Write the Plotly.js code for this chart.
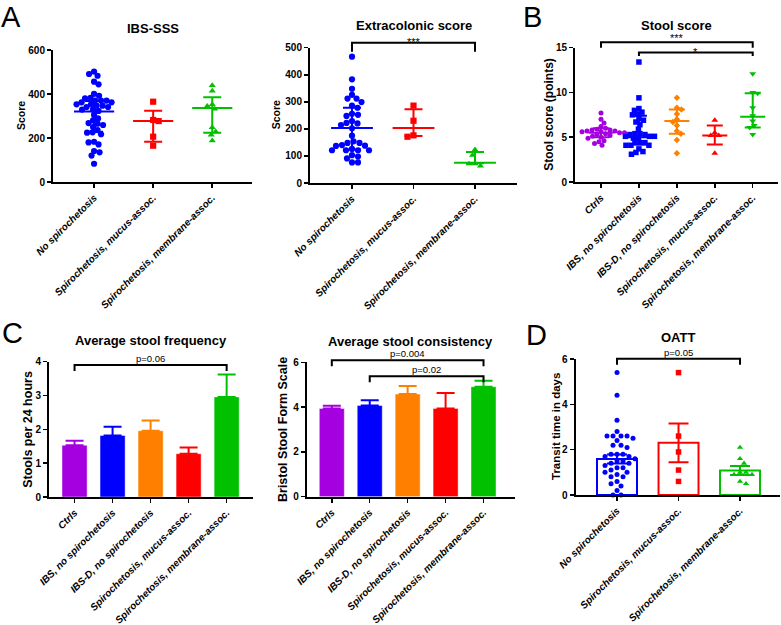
<!DOCTYPE html>
<html><head><meta charset="utf-8">
<script src="https://cdn.plot.ly/plotly-3.0.1.min.js"></script>
<style>html,body{margin:0;padding:0;background:#fff}#chart{width:781px;height:625px}</style>
</head><body><div id="chart"></div>
<script>
// ---------------- data ----------------
const cats3 = ['No spirochetosis', 'Spirochetosis, mucus-assoc.', 'Spirochetosis, membrane-assoc.'];
const cats5 = ['Ctrls', 'IBS, no spirochetosis', 'IBS-D, no spirochetosis', 'Spirochetosis, mucus-assoc.', 'Spirochetosis, membrane-assoc.'];

const panelTitles = ['IBS-SSS', 'Extracolonic score', 'Stool score', 'Average stool frequency', 'Average stool consistency', 'OATT'];
const yTitles = ['Score', 'Score', 'Stool score (points)', 'Stools per 24 hours', 'Bristol Stool Form Scale', 'Transit time in days'];
const panelLetters = ['A', 'B', 'C', 'D'];

// IBS-SSS (median with IQR)
const sssNo = [502, 491, 483, 456, 444, 401, 392, 383, 380, 370, 370, 370, 362, 362, 353, 353, 347, 347, 341, 341, 329, 329, 323, 305, 289, 280, 268, 265, 259, 250, 236, 226, 224, 217, 183, 180, 171, 141, 135, 120, 83];
const sssMucus = [365, 282, 277, 206, 165];
const sssMembrane = [439, 414, 353, 345, 332, 248, 229, 214, 188];
const sssMedian = [320, 277, 336];
const sssQ1 = [228, 183, 224];
const sssQ3 = [368, 324, 385];

// Extracolonic score
const extraNo = [467, 383, 348, 326, 312, 312, 299, 286, 278, 256, 252, 248, 229, 222, 220, 214, 202, 175, 154, 148, 148, 140, 138, 137, 126, 121, 121, 121, 121, 103, 98, 91, 76, 76];
const extraMucus = [286, 230, 176, 171];
const extraMembrane = [123, 103, 71, 71, 63];
const extraMedian = [203, 203, 75];
const extraQ1 = [124, 174, 73];
const extraQ3 = [278, 273, 115];

// Stool score
const stoolCtrls = [7.7, 7.0, 6.6, 6.2, 6.0, 5.9, 5.8, 5.8, 5.7, 5.7, 5.6, 5.6, 5.5, 5.5, 5.4, 5.3, 5.2, 5.1, 5.0, 4.9, 4.6, 4.5, 4.3, 4.1];
const stoolIBS = [13.4, 9.4, 8.2, 8.0, 7.8, 7.6, 7.5, 7.1, 6.9, 6.7, 6.4, 5.9, 5.4, 5.4, 5.3, 5.3, 5.1, 5.1, 5.1, 4.9, 4.9, 4.4, 4.4, 4.4, 4.1, 4.1, 4.1, 3.7, 3.4, 3.3, 3.1];
const stoolIBSD = [9.4, 8.3, 8.1, 7.6, 7.0, 6.7, 6.3, 5.7, 5.4, 4.7, 3.2];
const stoolMucus = [6.9, 5.5, 5.2, 5.2, 3.2];
const stoolMembrane = [12.1, 10.0, 9.9, 8.3, 7.4, 6.8, 6.3, 6.1, 5.3];
const stoolMedian = [5.5, 5.0, 6.8, 5.2, 7.3];
const stoolQ1 = [5.0, 4.2, 5.4, 4.2, 6.1];
const stoolQ3 = [6.0, 7.4, 8.1, 6.3, 9.9];

// Average stool frequency / consistency (mean + SEM)
const freqMean = [1.53, 1.82, 1.96, 1.28, 2.96];
const freqSem = [0.13, 0.26, 0.30, 0.18, 0.66];
const consMean = [3.94, 4.07, 4.58, 3.94, 4.91];
const consSem = [0.12, 0.24, 0.36, 0.69, 0.27];

// OATT (mean ± SEM with individual points)
const oattNo = [5.4, 4.4, 3.3, 2.8, 2.6, 2.6, 2.6, 2.6, 2.5, 2.4, 2.2, 2.2, 2.1, 1.8, 1.8, 1.8, 1.7, 1.7, 1.6, 1.5, 1.5, 1.4, 1.4, 1.3, 1.2, 1.2, 1.1, 1.0, 1.0, 0.9, 0.8, 0.8, 0.6, 0.5, 0.4, 0.2, 0.0, 0.0];
const oattMucus = [5.4, 2.6, 1.9, 1.1, 0.6];
const oattMembrane = [2.1, 1.6, 1.4, 1.0, 1.0, 0.9, 0.9, 0.6, 0.5];
const oattMean = [1.59, 2.30, 1.08];
const oattSem = [0.20, 0.85, 0.20];

// significance brackets: panel index, from/to category, bracket level, label
const sigPanel = [1, 2, 2, 3, 4, 4, 5];
const sigFrom = [0, 0, 1, 0, 0, 1, 0];
const sigTo = [2, 4, 4, 4, 4, 4, 2];
const sigLevel = [518, 15.6, 14.45, 3.9, 6.09, 5.38, 6.01];
const sigLabel = ['***', '***', '*', 'p=0.06', 'p=0.004', 'p=0.02', 'p=0.05'];

// ---------------- layout geometry / styles ----------------
const W = 781, H = 625;
const FONT = 'Liberation Sans, Arial, Helvetica, sans-serif';
const COL = ['#A400E0', '#0000FF', '#FF8000', '#FF0000', '#00C000'];
const COL3 = ['#0000FF', '#FF0000', '#00C000'];

const P = [
  {id:'',  x0:53,    x1:252,   yTop:50,    yBot:182,   xr:[-0.695, 2.673], ymax:600, dtick:200, cats:cats3, titleY:29,  yTitleX:21,    yTitleSize:10.5},
  {id:'2', x0:310,   x1:517,   yTop:47.7,  yBot:183,   xr:[-0.683, 2.683], ymax:500, dtick:100, cats:cats3, titleY:25,  yTitleX:276,   yTitleSize:10.5},
  {id:'3', x0:575,   x1:778,   yTop:47.7,  yBot:182,   xr:[-0.686, 4.667], ymax:15,  dtick:5,   cats:cats5, titleY:26,  yTitleX:549,   yTitleSize:12},
  {id:'4', x0:49,    x1:252.5, yTop:361.7, yBot:497,   xr:[-0.672, 4.68],  ymax:4,   dtick:1,   cats:cats5, titleY:340, yTitleX:28.5,  yTitleSize:12.5},
  {id:'5', x0:306.7, x1:515,   yTop:362.3, yBot:496.7, xr:[-0.662, 4.83],  ymax:6,   dtick:2,   cats:cats5, titleY:341, yTitleX:282.5, yTitleSize:12.5},
  {id:'6', x0:575.5, x1:780,   yTop:359,   yBot:495,   xr:[-0.675, 2.65],  ymax:6,   dtick:2,   cats:cats3, titleY:337, yTitleX:556,   yTitleSize:11.5}
];
const letterPos = [[11, 0], [532.7, 0], [12.5, 316], [536, 318]];

function paperX(p, xv) { return (p.x0 + (xv - p.xr[0]) / (p.xr[1] - p.xr[0]) * (p.x1 - p.x0)) / W; }
function paperY(p, yv) { return 1 - (p.yBot - yv / p.ymax * (p.yBot - p.yTop)) / H; }
function pxPerY(p) { return (p.yBot - p.yTop) / p.ymax; }
function pxPerX(p) { return (p.x1 - p.x0) / (p.xr[1] - p.xr[0]); }

// beeswarm: horizontal offsets (px) computed from values so markers don't overlap
function swarm(vals, pyUnit, diam) {
  const order = vals.map((v, i) => i).sort((a, b) => vals[b] - vals[a]);
  const placed = [];
  const off = new Array(vals.length).fill(0);
  order.forEach((i, n) => {
    const y = vals[i] * pyUnit;
    let best = 0;
    for (let k = 0; k < 600; k++) {
      const sgn = (k % 2 === 1 ? 1 : -1) * (n % 2 ? -1 : 1);
      const cand = Math.ceil(k / 2) * 0.5 * sgn;
      if (placed.every(q => (q.x - cand) ** 2 + (q.y - y) ** 2 >= diam * diam)) { best = cand; break; }
    }
    off[i] = best;
    placed.push({x: best, y: y});
  });
  return off;
}

const traces = [];
function axesOf(p) { return {xaxis: 'x' + p.id, yaxis: 'y' + p.id}; }

function addPoints(p, cat, vals, color, symbol, size, diam) {
  const offs = swarm(vals, pxPerY(p), diam);
  const ux = pxPerX(p);
  traces.push(Object.assign({
    type: 'scatter', mode: 'markers',
    x: vals.map((v, k) => cat + offs[k] / ux), y: vals,
    marker: {color: color, symbol: symbol, size: size, line: {width: 0}},
    cliponaxis: false, hoverinfo: 'skip'
  }, axesOf(p)));
}
function addMedianIQR(p, cat, med, q1, q3, color, half, capW) {
  traces.push(Object.assign({
    type: 'scatter', mode: 'markers', x: [cat], y: [med],
    marker: {color: 'rgba(0,0,0,0)', size: 1},
    error_x: {type: 'constant', value: half, width: 0, thickness: 2, color: color},
    error_y: {type: 'data', symmetric: false, array: [q3 - med], arrayminus: [med - q1], width: capW, thickness: 2, color: color},
    cliponaxis: false, hoverinfo: 'skip'
  }, axesOf(p)));
}

// Panel A left
[sssNo, sssMucus, sssMembrane].forEach((v, i) => addPoints(P[0], i, v, COL3[i], ['circle', 'square', 'triangle-up'][i], 6.2, 5.2));
sssMedian.forEach((m, i) => addMedianIQR(P[0], i, m, sssQ1[i], sssQ3[i], COL3[i], 0.34, 9));
// Panel A right
[extraNo, extraMucus, extraMembrane].forEach((v, i) => addPoints(P[1], i, v, COL3[i], ['circle', 'square', 'triangle-up'][i], 6.2, 5.8));
extraMedian.forEach((m, i) => addMedianIQR(P[1], i, m, extraQ1[i], extraQ3[i], COL3[i], 0.34, 9));
// Panel B
[stoolCtrls, stoolIBS, stoolIBSD, stoolMucus, stoolMembrane].forEach((v, i) =>
  addPoints(P[2], i, v, COL[i], ['circle', 'square', 'diamond', 'triangle-up', 'triangle-down'][i], [5, 5.5, 5, 6, 6][i], 4.6));
stoolMedian.forEach((m, i) => addMedianIQR(P[2], i, m, stoolQ1[i], stoolQ3[i], COL[i], 0.33, 8));

// Panel C bars
function addBars(p, means, sems, colors) {
  means.forEach((m, i) => {
    traces.push(Object.assign({
      type: 'bar', x: [i], y: [m], width: 0.66,
      marker: {color: colors[i], line: {color: 'rgba(255,255,255,0.45)', width: 1}},
      error_y: {type: 'data', symmetric: false, array: [sems[i]], arrayminus: [0], width: 9, thickness: 2, color: colors[i]},
      hoverinfo: 'skip'
    }, axesOf(p)));
  });
}
addBars(P[3], freqMean, freqSem, COL);
addBars(P[4], consMean, consSem, COL);

// Panel D hollow bars + points
oattMean.forEach((m, i) => {
  traces.push(Object.assign({
    type: 'bar', x: [i], y: [m], width: 0.65,
    marker: {color: 'rgba(255,255,255,0)', line: {color: COL3[i], width: 2}},
    error_y: {type: 'data', symmetric: true, array: [oattSem[i]], width: 10, thickness: 2, color: COL3[i]},
    hoverinfo: 'skip'
  }, axesOf(P[5])));
});
[oattNo, oattMucus, oattMembrane].forEach((v, i) => addPoints(P[5], i, v, COL3[i], ['circle', 'square', 'triangle-up'][i], [5, 5.5, 5.5][i], 6));

// ---------------- layout ----------------
const layout = {
  width: W, height: H, margin: {l: 0, r: 0, t: 0, b: 0},
  paper_bgcolor: '#fff', plot_bgcolor: 'rgba(0,0,0,0)',
  showlegend: false, barmode: 'overlay', hovermode: false,
  font: {family: FONT, color: '#000'},
  annotations: [], shapes: []
};

P.forEach((p, i) => {
  layout['xaxis' + p.id] = {
    domain: [p.x0 / W, p.x1 / W], range: p.xr, anchor: 'y' + p.id,
    tickmode: 'array', tickvals: p.cats.map((c, k) => k), ticktext: p.cats, tickangle: -45,
    showline: true, linecolor: '#000', linewidth: 2, ticks: 'outside', ticklen: 4, tickwidth: 1.5, tickcolor: '#000',
    showgrid: false, zeroline: false, fixedrange: true,
    tickfont: {family: FONT, size: 10, weight: 'bold', style: 'italic', color: '#000'}
  };
  layout['yaxis' + p.id] = {
    domain: [1 - p.yBot / H, 1 - p.yTop / H], range: [0, p.ymax], anchor: 'x' + p.id,
    tickmode: 'linear', tick0: 0, dtick: p.dtick,
    showline: true, linecolor: '#000', linewidth: 2, ticks: 'outside', ticklen: 4, tickwidth: 1.5, tickcolor: '#000',
    showgrid: false, zeroline: false, fixedrange: true,
    tickfont: {family: FONT, size: 10, weight: 'bold', color: '#000'}
  };
  // panel title
  layout.annotations.push({
    xref: 'paper', yref: 'paper', x: (p.x0 + p.x1) / 2 / W, y: 1 - p.titleY / H,
    xanchor: 'center', yanchor: 'middle', showarrow: false,
    text: panelTitles[i], font: {family: FONT, size: 13, weight: 'bold', color: '#000'}
  });
  // y axis title
  layout.annotations.push({
    xref: 'paper', yref: 'paper', x: p.yTitleX / W, y: 1 - (p.yTop + p.yBot) / 2 / H,
    xanchor: 'center', yanchor: 'middle', showarrow: false, textangle: -90,
    text: yTitles[i], font: {family: FONT, size: p.yTitleSize, weight: 'bold', color: '#000'}
  });
});

panelLetters.forEach((L, i) => {
  layout.annotations.push({
    xref: 'paper', yref: 'paper', x: letterPos[i][0] / W, y: 1 - letterPos[i][1] / H,
    xanchor: 'center', yanchor: 'top', showarrow: false, borderpad: 0,
    text: L, font: {family: FONT, size: 29, color: '#000'}
  });
});

// significance brackets
sigLabel.forEach((lab, j) => {
  const p = P[sigPanel[j]];
  const xa = paperX(p, sigFrom[j]), xb = paperX(p, sigTo[j]);
  const yl = paperY(p, sigLevel[j]);
  const dropPx = lab.startsWith('p') ? 6 : (sigPanel[j] === 1 ? 9 : (lab === '*' ? 3.5 : 5.5));
  const yd = yl - dropPx / H;
  layout.shapes.push({
    type: 'path', xref: 'paper', yref: 'paper',
    path: 'M' + xa + ',' + yd + ' L' + xa + ',' + yl + ' L' + xb + ',' + yl + ' L' + xb + ',' + yd,
    line: {color: '#000', width: 2}
  });
  const isStar = !lab.startsWith('p');
  const lift = isStar ? (sigPanel[j] === 2 && lab === '***' ? 4.6 : 0.6) : 6.5;
  layout.annotations.push({
    xref: 'paper', yref: 'paper', x: (xa + xb) / 2, y: yl + lift / H,
    xanchor: 'center', yanchor: 'middle', showarrow: false,
    text: lab, font: {family: FONT, size: isStar ? 11 : 9.5, color: '#000'}
  });
});

Plotly.newPlot('chart', traces, layout, {staticPlot: true, displayModeBar: false});
</script>
</body></html>
